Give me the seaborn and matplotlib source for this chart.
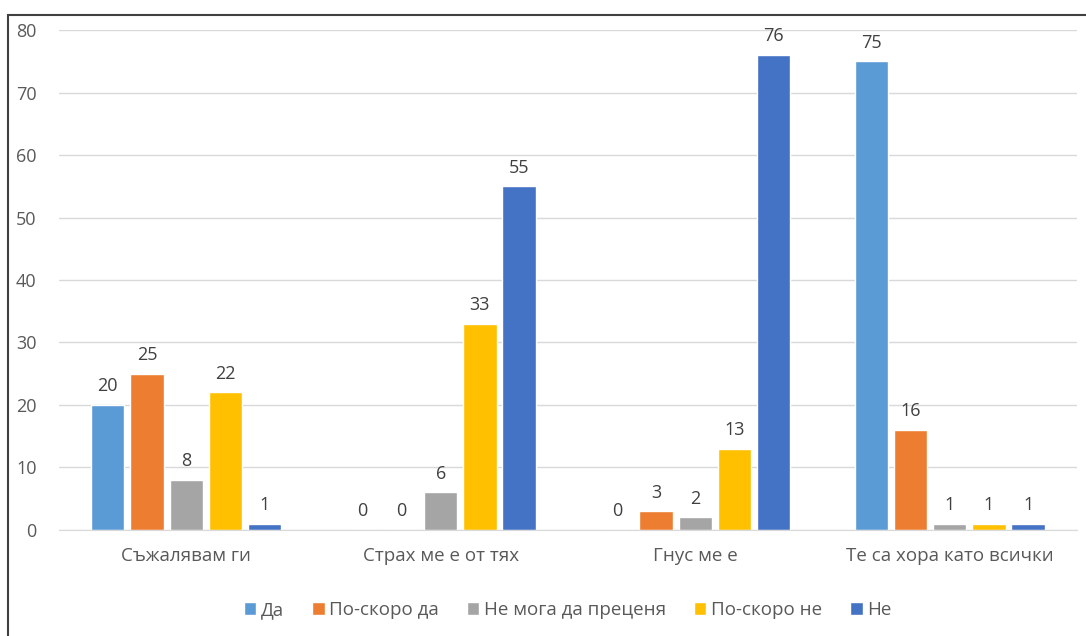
import matplotlib
matplotlib.use('Agg')
from matplotlib import pyplot as plt
from matplotlib.patches import Rectangle
import seaborn as sns
import pandas as pd

# Categories and answers
categories = ['Съжалявам ги', 'Страх ме е от тях', 'Гнус ме е', 'Те са хора като всички']
answers = ['Да', 'По-скоро да', 'Не мога да преценя', 'По-скоро не', 'Не']

# Values per answer, one entry per category
da = [20, 0, 0, 75]
po_skoro_da = [25, 0, 3, 16]
ne_moga = [8, 6, 2, 1]
po_skoro_ne = [22, 33, 13, 1]
ne = [1, 55, 76, 1]

colors = ['#5B9BD5', '#ED7D31', '#A5A5A5', '#FFC000', '#4472C4']

series = [da, po_skoro_da, ne_moga, po_skoro_ne, ne]
rows = []
for answer, vals in zip(answers, series):
    for cat, v in zip(categories, vals):
        rows.append({'category': cat, 'answer': answer, 'value': v})
df = pd.DataFrame(rows)

sns.set_style('white')
plt.rcParams['font.family'] = ['Open Sans', 'DejaVu Sans']

fig = plt.figure(figsize=(10.86, 6.36), dpi=100)
ax = fig.add_axes([0.0543, 0.1667, 0.9374, 0.7861])

sns.barplot(data=df, x='category', y='value', hue='answer', order=categories,
            hue_order=answers, palette=colors, width=0.77, gap=0.15,
            saturation=1, ax=ax, legend=True)

for cont in ax.containers:
    ax.bar_label(cont, fmt='%g', padding=7, fontsize=13, color='#404040')

ax.set_ylim(0, 80)
ax.set_xlim(-0.5, 3.5)
ax.set_yticks(range(0, 81, 10))
ax.yaxis.grid(True, color='#D9D9D9', linewidth=1)
ax.set_axisbelow(True)
for s in ax.spines.values():
    s.set_visible(False)
ax.spines['bottom'].set_visible(True)
ax.spines['bottom'].set_color('#D9D9D9')
ax.tick_params(axis='y', length=0, pad=16, labelsize=13, labelcolor='#595959')
ax.tick_params(axis='x', length=0, pad=12, labelsize=13.5, labelcolor='#595959')
ax.set_xlabel('')
ax.set_ylabel('')

handles, labels = ax.get_legend_handles_labels()
ax.legend(handles, labels, loc='center', bbox_to_anchor=(0.5, -0.16),
          ncol=5, frameon=False, fontsize=13.5, labelcolor='#595959',
          handlelength=0.65, handleheight=0.65, handletextpad=0.25,
          columnspacing=1.5)

# outer chart border (only top and left visible in the crop)
fig.patches.append(Rectangle((8 / 1086, -0.1), 1.2, 1 - 15 / 636 + 0.1,
                             transform=fig.transFigure, fill=False,
                             edgecolor='#404040', linewidth=1.5))

fig.savefig('out.png', dpi=100)
